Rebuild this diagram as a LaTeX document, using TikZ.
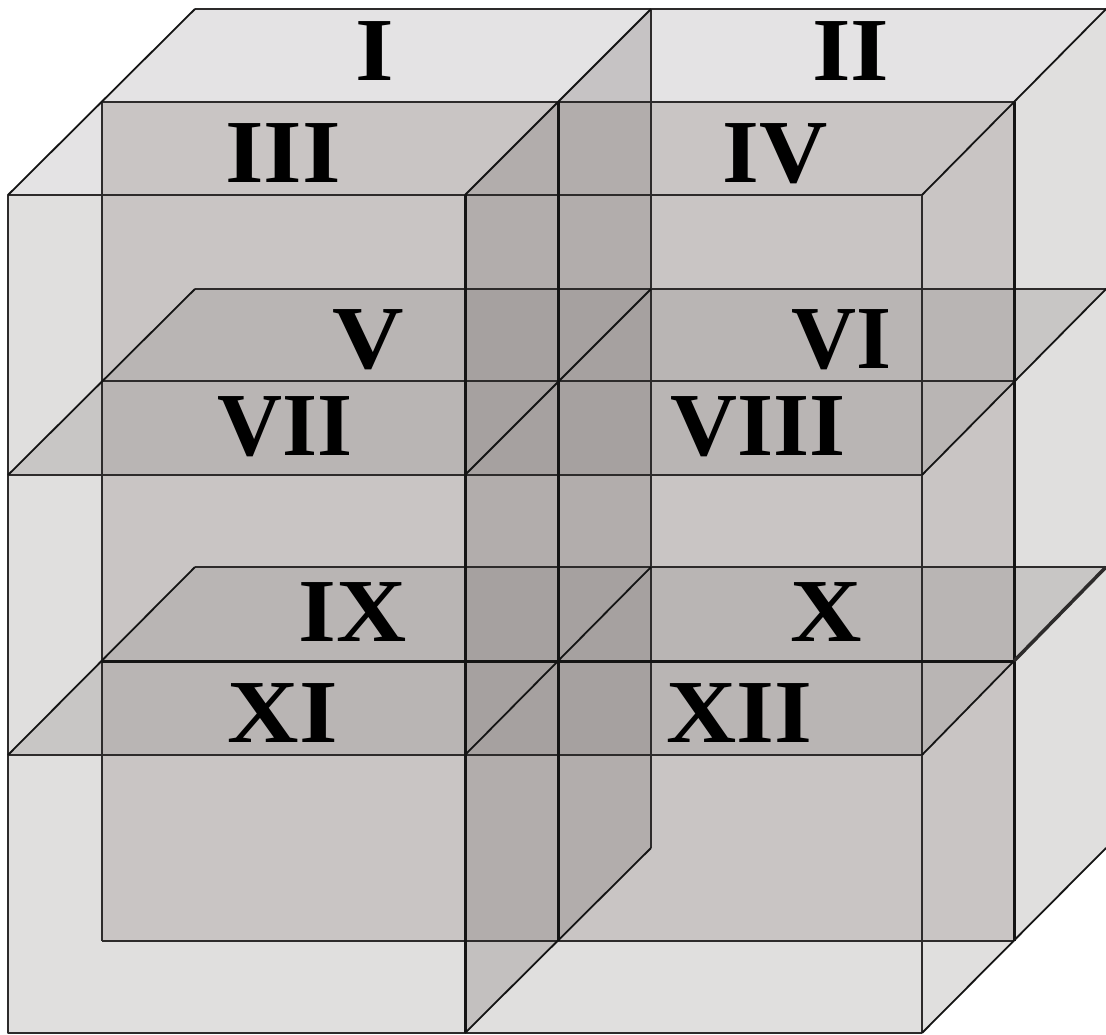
\documentclass[tikz,border=0pt]{standalone}
\usepackage{graphicx}
\usepackage{fontspec}
\setmainfont{Liberation Serif}
\definecolor{topc}{RGB}{228,227,228}
\definecolor{frontc}{RGB}{224,223,222}
\definecolor{midc}{RGB}{201,197,196}
\definecolor{horizc}{RGB}{158,152,152}
\definecolor{sagc}{RGB}{110,102,102}
\definecolor{linec}{RGB}{20,20,20}
\definecolor{softline}{RGB}{45,43,43}
\newcommand{\romanlabel}[2]{\scalebox{#1}[1]{#2}}
\tikzset{
  x=1pt,y=-1pt,
  thinline/.style={draw=softline,line width=1.7pt,line join=round},
  diagline/.style={draw=linec,line width=1.8pt,line join=round},
  heavyline/.style={draw=linec,line width=3pt},
  horizplane/.style={fill=horizc,fill opacity=.35},
  sagplane/.style={fill=sagc,fill opacity=.25},
  numeral/.style={font=\fontsize{90}{90}\selectfont\bfseries,text=black,inner sep=0pt,anchor=base}
}
\begin{document}
\begin{tikzpicture}
\useasboundingbox (0,0) rectangle (1106,1035);
\fill[white] (0,0) rectangle (1106,1035);
% fills
\fill[frontc] (8,195) rectangle (922,1033);
\fill[topc] (8,195)--(195,9)--(1106,9)--(922,195)--cycle;
\fill[frontc] (922,195)--(1106,9)--(1106,848)--(922,1033)--cycle;
\fill[midc] (102,102) rectangle (1014,941);
\path[horizplane] (8,475)--(922,475)--(1106,289)--(195,289)--cycle;
\path[horizplane] (8,755)--(922,755)--(1106,567)--(195,567)--cycle;
\path[sagplane] (465,195)--(651,9)--(651,848)--(465,1033)--cycle;
% thin lines
\draw[thinline] (922,1033)--(8,1033)--(8,195)--(922,195)--(922,1033);
\draw[thinline] (102,102)--(102,941);
\draw[thinline] (651,9)--(651,848);
\draw[thinline] (195,9)--(1106,9);
\draw[thinline] (102,102)--(1014,102);
\draw[thinline] (102,941)--(1014,941);
\draw[thinline] (195,289)--(1106,289) (102,381)--(1014,381) (8,475)--(922,475);
\draw[thinline] (195,567)--(1106,567) (8,755)--(922,755);
% diagonals
\draw[diagline] (8,195)--(195,9);
\draw[diagline] (465,195)--(651,9);
\draw[diagline] (922,195)--(1106,9);
\draw[diagline] (8,475)--(195,289);
\draw[diagline] (465,475)--(651,289);
\draw[diagline] (922,475)--(1106,289);
\draw[diagline] (8,755)--(195,567);
\draw[diagline] (465,755)--(651,567);
\draw[diagline] (922,755)--(1014,661);
\draw[diagline] (465,1033)--(651,848);
\draw[diagline] (922,1033)--(1106,848);
% heavy lines
\draw[heavyline] (465,195)--(465,1033);
\draw[heavyline] (558,102)--(558,941);
\draw[heavyline] (1014,102)--(1014,941);
\draw[heavyline] (102,661)--(1014,661);
\draw[draw=softline,line width=3.5pt] (1014,661)--(1106,567);
% labels
\node[numeral] (n1) at (375,81) {\romanlabel{1.1}{I}};
\node[numeral] (n2) at (851,81) {\romanlabel{1.1}{II}};
\node[numeral] (n3) at (283,183) {\romanlabel{1.1}{III}};
\node[numeral] (n4) at (775,183) {\romanlabel{1.05}{IV}};
\node[numeral] (n5) at (368,368) {\romanlabel{1.1}{V}};
\node[numeral] (n6) at (842,368) {\romanlabel{1}{VI}};
\node[numeral] (n7) at (285,455) {\romanlabel{1}{VII}};
\node[numeral] (n8) at (758,455) {\romanlabel{1.03}{VIII}};
\node[numeral] (n9) at (353,641) {\romanlabel{1.08}{IX}};
\node[numeral] (n10) at (826,641) {\romanlabel{1.1}{X}};
\node[numeral] (n11) at (283,742) {\romanlabel{1.1}{XI}};
\node[numeral] (n12) at (739,742) {\romanlabel{1.08}{XII}};
\end{tikzpicture}
\end{document}
